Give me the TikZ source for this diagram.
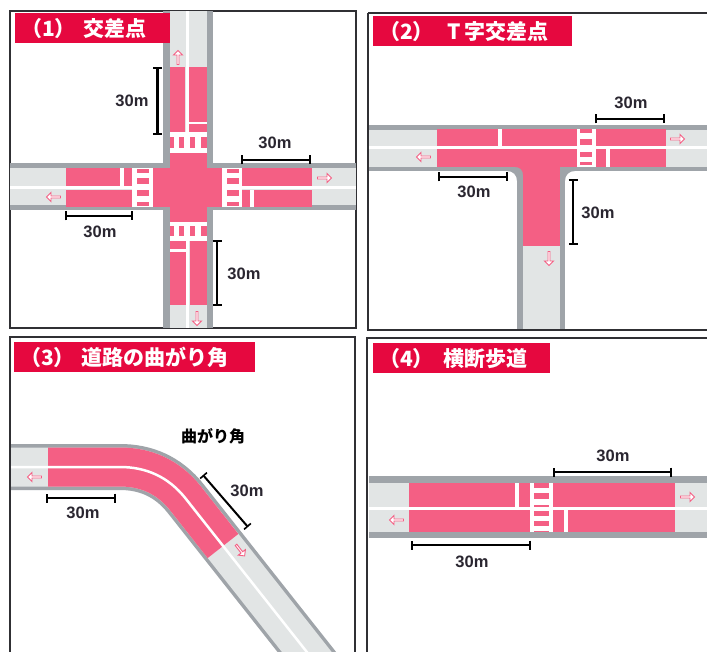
\documentclass[tikz,border=0pt]{standalone}
\usepackage{fontspec}
\setmainfont{Liberation Sans}
\newfontfamily\cjk{Noto Sans CJK JP}
\usetikzlibrary{shapes.arrows,arrows.meta,positioning}
\definecolor{edgegrey}{HTML}{9FA4A9}
\definecolor{roadgrey}{HTML}{E2E5E5}
\definecolor{lanepink}{HTML}{F45F84}
\definecolor{titlered}{HTML}{E6083F}
\definecolor{framegrey}{HTML}{303034}
\definecolor{dimink}{HTML}{2A2630}

\begin{document}
\begin{tikzpicture}[
    x=1pt, y=-1pt,
    frame/.style={draw=framegrey, line width=1.5pt},
    edge/.style={fill=edgegrey},
    road/.style={fill=roadgrey},
    lane/.style={fill=lanepink},
    paint/.style={fill=white},
    titlebar/.style={rectangle, fill=titlered, anchor=north west, minimum height=30pt, inner xsep=6pt, inner ysep=0pt, align=left, font=\cjk\bfseries\fontsize{21}{21}\selectfont, text=white},
    dim/.style={{Bar[width=9pt,line width=1.6pt]}-{Bar[width=9pt,line width=1.6pt]}, line width=2.6pt, color=black},
    len/.style={font=\bfseries\fontsize{16.5}{17}\selectfont, text=dimink, inner sep=1pt},
    flow/.style={single arrow, draw=lanepink, fill=white, line width=0.9pt, minimum height=14pt, minimum width=9pt, inner sep=0pt, single arrow head extend=1.5pt}
]
    \clip (0,0) rectangle (707,652);
    \fill[white] (0,0) rectangle (707,652);

    % Panel 1: crossroads
    \draw[frame] (10,11) rectangle (356,328);
    \fill[edge] (163,11) rectangle (213,328);
    \fill[edge] (10,163) rectangle (356,210);
    \fill[road] (170,11) rectangle (207,328);
    \fill[road] (10,168) rectangle (356,205);
    \fill[paint] (186,11) rectangle (189,328);
    \fill[paint] (10,186) rectangle (356,189);
    % lanes
    \fill[lane] (170,67) rectangle (185,132);
    \fill[lane] (189,67) rectangle (207,132);
    \fill[lane] (170,241) rectangle (186,305);
    \fill[lane] (190,241) rectangle (207,305);
    \fill[lane] (66,168) rectangle (132,186);
    \fill[lane] (66,190) rectangle (132,207);
    \fill[lane] (242,168) rectangle (312,186);
    \fill[lane] (242,190) rectangle (312,207);
    \fill[lane] (170,153) rectangle (207,222);
    \fill[lane] (153,168) rectangle (222,207);
    % stop lines
    \fill[paint] (189,122) rectangle (207,124.5);
    \fill[paint] (170,249) rectangle (186,252);
    \fill[paint] (120,168) rectangle (124,186);
    \fill[paint] (250,190) rectangle (254,207);
    % crossings
    \fill[paint] (170,132) rectangle (207,153);
    \fill[paint] (170,222) rectangle (207,241);
    \fill[paint] (132,168) rectangle (153,207);
    \fill[paint] (222,168) rectangle (242,207);
    \foreach \a/\b in {170/174,179/184,190/195,201/207} {
        \fill[lane] (\a,137) rectangle (\b,148);
        \fill[lane] (\a,226) rectangle (\b,236);
    }
    \foreach \a/\b in {169/173,178/184,190/196,202/206} {
        \fill[lane] (137,\a) rectangle (149,\b);
        \fill[lane] (227,\a) rectangle (239,\b);
    }
    \node[flow, rotate=90] (arrow1n) at (178,58) {};
    \node[flow] (arrow1e) at (324,178) {};
    \node[flow, rotate=180] (arrow1w) at (54,197) {};
    \node[flow, rotate=-90] (arrow1s) at (197,318) {};
    \node[titlebar, text width=143pt] (title1) at (15,13) {（1）\hspace{7.5pt}交差点};
    % lengths
    \coordinate (d1na) at (157.5,67);
    \coordinate (d1nb) at (157.5,135);
    \coordinate (d1ea) at (241,160);
    \coordinate (d1eb) at (311,160);
    \coordinate (d1wa) at (65,216);
    \coordinate (d1wb) at (133,216);
    \coordinate (d1sa) at (217,240);
    \coordinate (d1sb) at (217,306);
    \draw[dim] (d1na) -- (d1nb);
    \draw[dim] (d1ea) -- (d1eb);
    \draw[dim] (d1wa) -- (d1wb);
    \draw[dim] (d1sa) -- (d1sb);
    \node[len] (len1n) at (132,101) {30m};
    \node[len] (len1e) at (275,143) {30m};
    \node[len] (len1w) at (100,232) {30m};
    \node[len] (len1s) at (244,274) {30m};

    % Panel 2: T junction
    \draw[frame] (368,13) -- (708,13);
    \draw[frame] (708,330) -- (368,330) -- (368,13);
    \fill[edge] (369,125) rectangle (708,171);
    \fill[edge] (517,150) rectangle (565,329);
    \fill[edge] (507,171) -- (517,171) -- (517,181) .. controls (517,175) and (513,171) .. (507,171) -- cycle;
    \fill[edge] (575,171) -- (565,171) -- (565,181) .. controls (565,175) and (569,171) .. (575,171) -- cycle;
    \fill[road] (369,130) rectangle (708,167);
    \fill[road] (523,150) rectangle (560,329);
    \fill[paint] (369,146) rectangle (708,149);
    \fill[lane] (437,129) rectangle (577,146);
    \fill[lane] (596,129) rectangle (666,146);
    \fill[lane] (596,149) rectangle (666,167);
    \fill[lane] (437,149) rectangle (577,167);
    \fill[lane] (523,160) rectangle (560,246);
    \fill[lane] (515,167) -- (523,167) -- (523,175) .. controls (523,170) and (520,167) .. (515,167) -- cycle;
    \fill[paint] (577,129) rectangle (596,167);
    \fill[paint] (498,129) rectangle (502,146);
    \fill[paint] (606,149) rectangle (610,167);
    \foreach \a/\b in {129/133,139/145,152/157,162/165} {
        \fill[lane] (580,\a) rectangle (592,\b);
    }
    \node[flow, rotate=180] (arrow2w) at (424,157) {};
    \node[flow] (arrow2e) at (677,139) {};
    \node[flow, rotate=-90] (arrow2s) at (549,258) {};
    \node[titlebar, text width=187pt] (title2) at (373,16) {（2）\hspace{14pt}T\hspace{3pt}字交差点};
    \coordinate (d2ea) at (595,119);
    \coordinate (d2eb) at (665,119);
    \coordinate (d2wa) at (438,177);
    \coordinate (d2wb) at (508,177);
    \coordinate (d2sa) at (573,179);
    \coordinate (d2sb) at (573,245);
    \draw[dim] (d2ea) -- (d2eb);
    \draw[dim] (d2wa) -- (d2wb);
    \draw[dim] (d2sa) -- (d2sb);
    \node[len] (len2e) at (631,103) {30m};
    \node[len] (len2w) at (474,192) {30m};
    \node[len] (len2s) at (598,213) {30m};

    % Panel 3: bend
    \draw[frame] (10,660) -- (10,337) -- (355,337) -- (355,660);
    \draw[edgegrey, line width=46pt] (11,467) -- (120,467) .. controls (145,467) and (168,476) .. (186,499) -- (340,694);
    \draw[roadgrey, line width=39pt] (11,467) -- (120,467) .. controls (145,467) and (168,476) .. (186,499) -- (340,694);
    \draw[lanepink, line width=39pt] (48,467) -- (120,467) .. controls (145,467) and (168,476) .. (186,499) -- (223,546);
    \draw[white, line width=2.5pt] (11,467) -- (120,467) .. controls (145,467) and (168,476) .. (186,499) -- (340,694);
    \node[flow, rotate=180] (arrow3w) at (35,477) {};
    \node[flow, rotate=-52] (arrow3s) at (240,550) {};
    \node[titlebar, text width=229pt] (title3) at (14,342) {（3）\hspace{6.5pt}道路の曲がり角};
    \coordinate (d3wa) at (46,498);
    \coordinate (d3wb) at (116,498);
    \coordinate (d3sa) at (203,475);
    \coordinate (d3sb) at (248,527);
    \draw[dim] (d3wa) -- (d3wb);
    \draw[dim, line width=2pt] (d3sa) -- (d3sb);
    \node[len] (len3w) at (83,513) {30m};
    \node[len] (len3s) at (247,491) {30m};
    \node[len, font=\cjk\bfseries\fontsize{16}{16}\selectfont, text=black] (bendname) at (213,436) {曲がり角};

    % Panel 4: pedestrian crossing
    \draw[frame] (367,660) -- (367,338) -- (708,338);
    \fill[edge] (369,476) rectangle (708,538);
    \fill[road] (369,483) rectangle (708,532);
    \fill[paint] (369,507) rectangle (708,510);
    \fill[lane] (409,483) rectangle (530,507);
    \fill[lane] (409,510) rectangle (530,532);
    \fill[lane] (553,483) rectangle (675,507);
    \fill[lane] (553,510) rectangle (675,532);
    \fill[paint] (530,483) rectangle (553,532);
    \fill[paint] (515,483) rectangle (519,507);
    \fill[paint] (564,510) rectangle (568,532);
    \foreach \a/\b in {483/488,493/499,505/507,511/516,521/526,531/532} {
        \fill[lane] (534,\a) rectangle (549,\b);
    }
    \node[flow] (arrow4e) at (687,497) {};
    \node[flow, rotate=180] (arrow4w) at (397,520) {};
    \node[titlebar, text width=165pt] (title4) at (373,343) {（4）\hspace{9.5pt}横断歩道};
    \coordinate (d4ea) at (553,472);
    \coordinate (d4eb) at (672,472);
    \coordinate (d4wa) at (411,545);
    \coordinate (d4wb) at (531,545);
    \draw[dim] (d4ea) -- (d4eb);
    \draw[dim] (d4wa) -- (d4wb);
    \node[len] (len4e) at (613,456) {30m};
    \node[len] (len4w) at (472,562) {30m};
\end{tikzpicture}
\end{document}
